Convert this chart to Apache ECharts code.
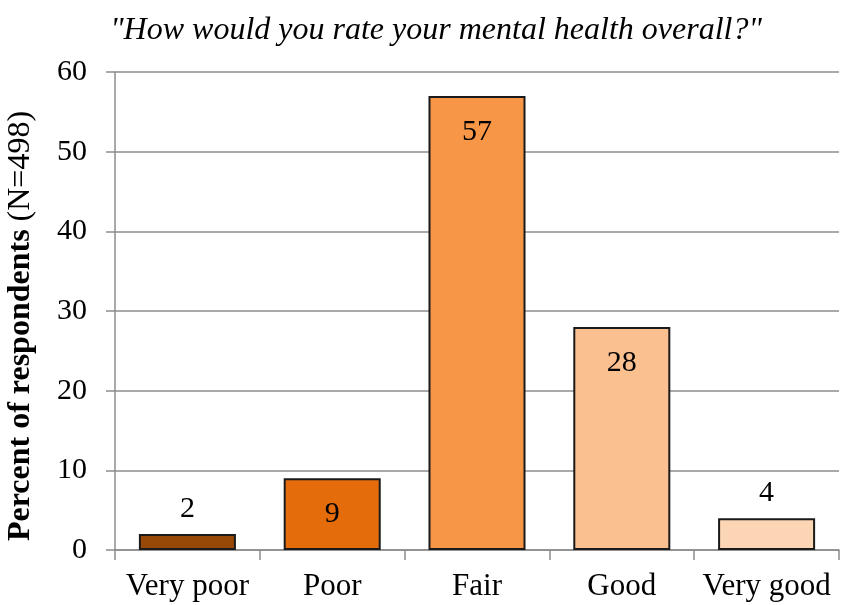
<!DOCTYPE html>
<html>
<head>
<meta charset="utf-8">
<script src="https://cdn.jsdelivr.net/npm/echarts@6/dist/echarts.min.js"></script>
<style>html,body{margin:0;padding:0;background:#fff}#chart{width:841px;height:605px}</style>
</head>
<body>
<div id="chart"></div>
<script>
const categories = ['Very poor', 'Poor', 'Fair', 'Good', 'Very good'];
const percentValues = [2, 9, 57, 28, 4];
const barColors = ['#984807', '#e46c0a', '#f79646', '#fac090', '#fcd5b5'];
const labelInside = [false, true, true, true, false];
const yTicks = [0, 10, 20, 30, 40, 50, 60];

const serif = '"Liberation Serif", "Times New Roman", serif';
const chart = echarts.init(document.getElementById('chart'));

chart.setOption({
  animation: false,
  title: {
    text: '"How would you rate your mental health overall?"',
    left: 431, top: 10, textAlign: 'center',
    textStyle: { fontFamily: serif, fontStyle: 'italic', fontWeight: 'normal', fontSize: 32, color: '#000' }
  },
  grid: { left: 115, right: 2, top: 72, bottom: 55, outerBoundsMode: 'none', containLabel: false },
  xAxis: {
    type: 'category',
    data: categories,
    axisLine: { lineStyle: { color: '#8c8c8c', width: 1.5 } },
    axisTick: { show: true, interval: 0, alignWithLabel: false, length: 10, lineStyle: { color: '#8c8c8c', width: 1.5 } },
    axisLabel: { interval: 0, fontFamily: serif, fontSize: 31, color: '#000', margin: 21 }
  },
  yAxis: {
    type: 'value',
    min: yTicks[0], max: yTicks[yTicks.length - 1], interval: 10,
    name: '{b|Percent of respondents }{n|(N=498)}',
    nameLocation: 'middle', nameGap: 78, nameRotate: 90,
    nameTextStyle: {
      padding: [0, 30, 0, 0],
      rich: {
        b: { fontFamily: serif, fontSize: 32, fontWeight: 'bold', color: '#000' },
        n: { fontFamily: serif, fontSize: 32, color: '#000' }
      }
    },
    axisLine: { show: true, lineStyle: { color: '#8c8c8c', width: 1.5 } },
    axisTick: { show: true, inside: false, length: 9, lineStyle: { color: '#8c8c8c', width: 1.5 } },
    splitLine: { show: true, lineStyle: { color: '#8c8c8c', width: 1.5 } },
    axisLabel: { fontFamily: serif, fontSize: 30, color: '#000', margin: 28 }
  },
  series: [{
    type: 'bar',
    barWidth: '67%',
    data: percentValues.map((v, i) => ({
      value: v,
      itemStyle: { color: barColors[i] },
      label: labelInside[i]
        ? { position: 'insideTop', distance: 21 }
        : { position: 'top', distance: 10 }
    })),
    itemStyle: { borderColor: '#1a1a1a', borderWidth: 2 },
    label: { show: true, fontFamily: serif, fontSize: 30, color: '#000' }
  }]
});
</script>
</body>
</html>
